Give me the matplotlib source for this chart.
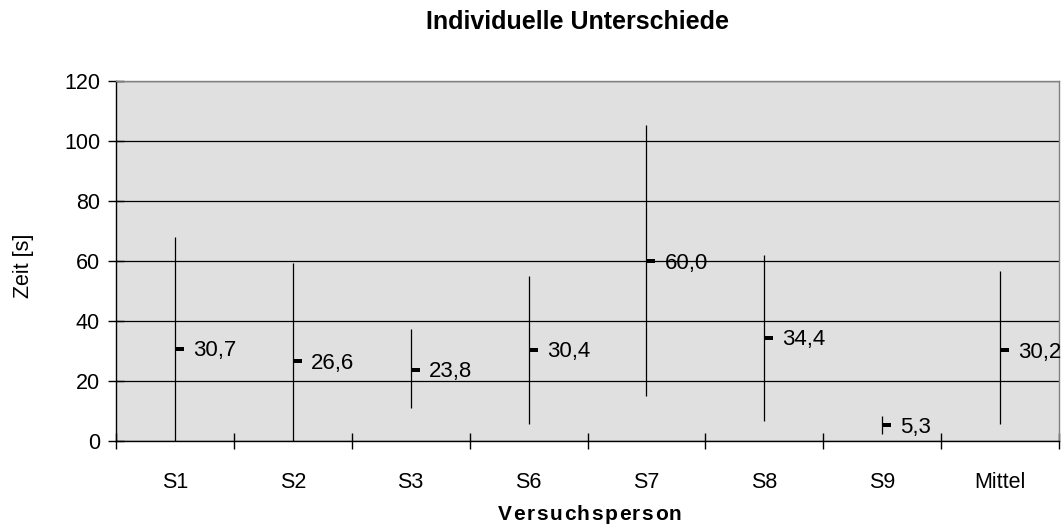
import matplotlib
matplotlib.use("Agg")
import matplotlib.pyplot as plt
from matplotlib.path import Path

categories = ["S1", "S2", "S3", "S6", "S7", "S8", "S9", "Mittel"]
means = [30.7, 26.6, 23.8, 30.4, 60.0, 34.4, 5.3, 30.2]
upper = [67.9, 59.2, 37.3, 55.1, 105.3, 62.0, 8.4, 56.7]
lower = [-6.5, -6.0, 11.0, 5.7, 15.0, 6.8, 2.2, 5.7]
labels = ["30,7", "26,6", "23,8", "30,4", "60,0", "34,4", "5,3", "30,2"]
yticks = [0, 20, 40, 60, 80, 100, 120]

plt.rcParams['font.family'] = ['Liberation Sans', 'DejaVu Sans']

W, H = 1061, 526
fig = plt.figure(figsize=(W / 100, H / 100), dpi=100)
ax = fig.add_axes([116 / W, (H - 441) / H, (1059 - 116) / W, (441 - 81) / H])
ax.set_facecolor('#E0E0E0')

x = list(range(len(categories)))
yerr = [[m - l for m, l in zip(means, lower)], [u - m for m, u in zip(means, upper)]]

dash = Path([(0, -0.25), (1, -0.25), (1, 0.25), (0, 0.25), (0, -0.25)],
            [Path.MOVETO, Path.LINETO, Path.LINETO, Path.LINETO, Path.CLOSEPOLY])

ax.errorbar(x, means, yerr=yerr, fmt='none', ecolor='black', elinewidth=0.9,
            capsize=0, zorder=3)
ax.plot(x, means, linestyle='none', marker=dash, markersize=13,
        color='black', markeredgewidth=0, zorder=4)

for xi, m, lab in zip(x, means, labels):
    ax.annotate(lab, (xi, m), xytext=(13, -1.5), textcoords='offset points',
                va='center', ha='left', fontsize=16, color='black',
                annotation_clip=False, zorder=5)

ax.set_xlim(-0.5, len(categories) - 0.5)
ax.set_ylim(0, 120)
ax.set_yticks(yticks)
ax.set_yticklabels([str(v) for v in yticks], fontsize=15.5)
ax.set_xticks(x)
ax.set_xticklabels(categories, fontsize=15.5)
ax.set_xticks([i - 0.5 for i in range(len(categories) + 1)], minor=True)
ax.tick_params(axis='x', which='major', length=0, pad=22)
ax.tick_params(axis='x', which='minor', direction='inout', length=12, width=1, color='black')
ax.tick_params(axis='y', direction='inout', length=11, width=1, color='black', pad=6)

ax.grid(axis='y', color='black', linewidth=0.9, zorder=1)
ax.set_axisbelow(True)
for s in ['left', 'bottom']:
    ax.spines[s].set_color('black')
    ax.spines[s].set_linewidth(1.0)
for s in ['top', 'right']:
    ax.spines[s].set_color('#808080')
    ax.spines[s].set_linewidth(1.0)

fig.text(578 / W, 1 - 22 / H, "Individuelle Unterschiede", ha='center', va='center',
         fontsize=18, fontweight='bold')
fig.text(23 / W, 1 - 266 / H, "Zeit [s]", ha='center', va='center',
         fontsize=15.5, rotation=90)

# letter-spaced x axis title
xlabel = "Versuchsperson"
renderer = fig.canvas.get_renderer()
spacing = 1.5
widths = []
for ch in xlabel:
    t = fig.text(0, 0, ch, fontsize=15, fontweight='bold')
    widths.append(t.get_window_extent(renderer).width)
    t.remove()
total = sum(widths) + spacing * (len(xlabel) - 1)
xpos = 590 - total / 2
for ch, w in zip(xlabel, widths):
    fig.text(xpos / W, 1 - 514 / H, ch, ha='left', va='center',
             fontsize=15, fontweight='bold')
    xpos += w + spacing

fig.savefig("out.png", dpi=100)
